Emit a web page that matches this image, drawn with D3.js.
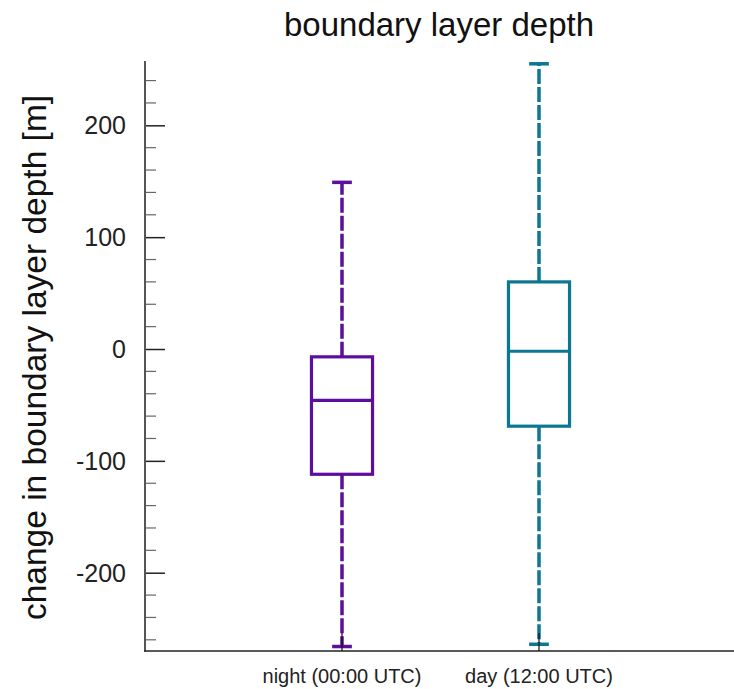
<!DOCTYPE html>
<html>
<head>
<meta charset="utf-8">
<script src="https://cdn.jsdelivr.net/npm/d3@7"></script>
<style>
html,body{margin:0;padding:0;background:#fff;}
svg{display:block;font-family:"Liberation Sans",Arial,Helvetica,sans-serif;}
</style>
</head>
<body>
<svg id="chart" width="734" height="689"></svg>
<script>
// Data
const categories = ["night (00:00 UTC)", "day (12:00 UTC)"];
const positions = [1, 2];
const whiskerLow = [-266, -264];
const q1 = [-112, -69];
const medians = [-46, -2];
const q3 = [-7, 60];
const whiskerHigh = [149, 255];
const colors = ["#5b0f9c", "#0c7790"];
const yTicks = [-200, -100, 0, 100, 200];
const title = "boundary layer depth";
const yLabel = "change in boundary layer depth [m]";

const svg = d3.select("#chart");
const x = d3.scaleLinear().domain([0, 3]).range([145, 736]);
const y = d3.scaleLinear().domain([-270, 257.5]).range([651, 61]);

// title
svg.append("text").attr("x", 439).attr("y", 36).attr("text-anchor", "middle")
  .attr("font-size", 33).attr("fill", "#111").text(title);

// y label
svg.append("text").attr("transform", "translate(46,357.5) rotate(-90)")
  .attr("text-anchor", "middle").attr("font-size", 33.5).attr("fill", "#111").text(yLabel);

// minor ticks
const minor = d3.range(-260, 260, 20).filter(v => v % 100 !== 0);
svg.append("g").selectAll("line").data(minor).join("line")
  .attr("x1", 145).attr("x2", 156).attr("y1", d => y(d)).attr("y2", d => y(d))
  .attr("stroke", "#666").attr("stroke-width", 1.2);

// y axis
const yAxis = d3.axisRight(y).tickValues(yTicks).tickSize(20).tickFormat("");
const gy = svg.append("g").attr("transform", "translate(145,0)").call(yAxis);
gy.select(".domain").remove();
gy.selectAll(".tick line").attr("stroke", "#222").attr("stroke-width", 1.5);
svg.append("line").attr("x1", 145).attr("x2", 145).attr("y1", y.range()[1]).attr("y2", 651.5)
  .attr("stroke", "#555").attr("stroke-width", 2);
svg.append("g").selectAll("text").data(yTicks).join("text")
  .attr("x", 126).attr("y", d => y(d) + 9).attr("text-anchor", "end")
  .attr("font-size", 25).attr("fill", "#222").text(d => d);

// bottom axis
svg.append("line").attr("x1", 144).attr("x2", 734).attr("y1", 651).attr("y2", 651)
  .attr("stroke", "#222").attr("stroke-width", 1.5);

const bw = x(0.155) - x(0);
const cw = x(0.05) - x(0);

const g = svg.append("g");
categories.forEach((c, i) => {
  const cx = x(positions[i]);
  const col = colors[i];
  // whiskers
  g.append("line").attr("x1", cx).attr("x2", cx).attr("y1", y(q3[i])).attr("y2", y(whiskerHigh[i]))
    .attr("stroke", col).attr("stroke-width", 3.5).attr("stroke-dasharray", "15,3");
  g.append("line").attr("x1", cx).attr("x2", cx).attr("y1", y(q1[i])).attr("y2", y(whiskerLow[i]))
    .attr("stroke", col).attr("stroke-width", 3.5).attr("stroke-dasharray", "15,3");
  // caps
  [whiskerHigh[i], whiskerLow[i]].forEach(v => {
    g.append("line").attr("x1", cx - cw).attr("x2", cx + cw).attr("y1", y(v)).attr("y2", y(v))
      .attr("stroke", col).attr("stroke-width", 3.5);
  });
  // box
  g.append("rect").attr("x", cx - bw).attr("width", 2 * bw)
    .attr("y", y(q3[i])).attr("height", y(q1[i]) - y(q3[i]))
    .attr("fill", "none").attr("stroke", col).attr("stroke-width", 3.2);
  g.append("line").attr("x1", cx - bw).attr("x2", cx + bw).attr("y1", y(medians[i])).attr("y2", y(medians[i]))
    .attr("stroke", col).attr("stroke-width", 3.2);
});

// x ticks (on top of whiskers)
svg.append("g").selectAll("line").data(positions).join("line")
  .attr("x1", d => x(d)).attr("x2", d => x(d)).attr("y1", 651).attr("y2", 633)
  .attr("stroke", "#111").attr("stroke-width", 1.2);
svg.append("g").selectAll("text").data(categories).join("text")
  .attr("x", (d, i) => x(positions[i])).attr("y", 683).attr("text-anchor", "middle")
  .attr("font-size", 20).attr("fill", "#222").text(d => d);
</script>
</body>
</html>
